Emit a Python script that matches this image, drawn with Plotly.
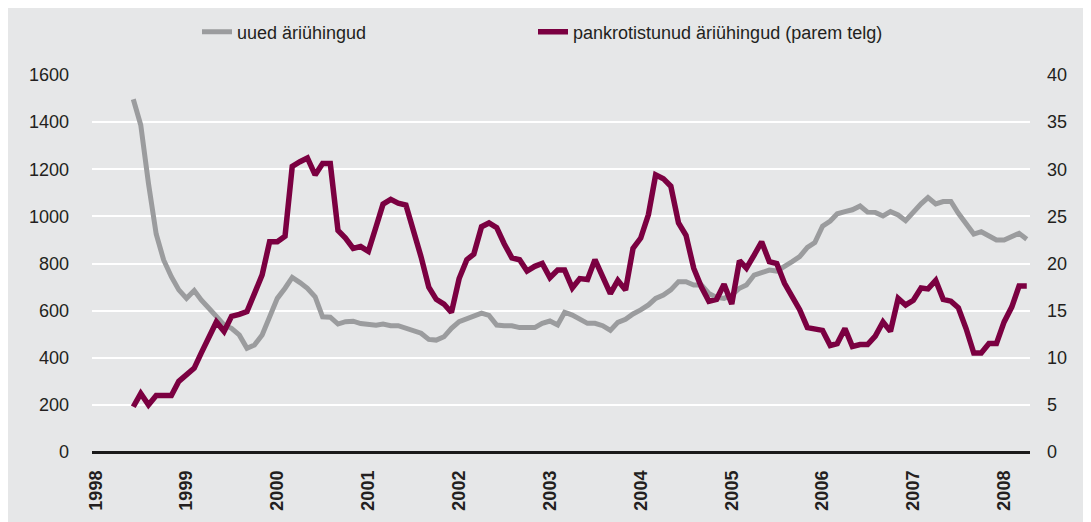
import plotly.graph_objects as go
import pandas as pd

# Monthly data, June 1998 - April 2008
start_month = "1998-06-01"
n_months = 119

uued = [1497, 1388, 1140, 925, 815, 744, 688, 652, 685, 645,
        610, 574, 539, 525, 497, 440, 454, 497, 567, 652,
        695, 741, 719, 695, 659, 574, 572, 543, 553, 555,
        545, 543, 538, 543, 536, 536, 524, 511, 504, 478,
        475, 489, 525, 553, 566, 581, 589, 580, 539, 536,
        536, 528, 528, 528, 546, 556, 539, 593, 581, 564,
        546, 546, 536, 516, 550, 563, 586, 603, 624, 652,
        666, 688, 723, 723, 709, 709, 673, 656, 652, 666,
        695, 709, 751, 761, 772, 768, 786, 808, 829, 868,
        889, 958, 980, 1011, 1020, 1028, 1044, 1018, 1017, 1002,
        1020, 1006, 982, 1020, 1053, 1080, 1053, 1063, 1063, 1013,
        968, 925, 935, 917, 900, 900, 917, 928, 903]

pankrot = [4.8, 6.2, 5.0, 6.0, 6.0, 6.0, 7.5, 8.2, 8.9, 10.5,
           12.1, 13.8, 12.8, 14.4, 14.6, 14.9, 16.8, 18.8, 22.3, 22.3,
           22.9, 30.3, 30.8, 31.2, 29.4, 30.6, 30.6, 23.5, 22.7, 21.6,
           21.8, 21.3, 23.9, 26.3, 26.8, 26.4, 26.2, 23.6, 20.7, 17.5,
           16.2, 15.7, 14.8, 18.4, 20.4, 21.0, 23.9, 24.3, 23.8, 22.1,
           20.6, 20.4, 19.2, 19.7, 20.0, 18.5, 19.3, 19.3, 17.4, 18.4,
           18.3, 20.4, 18.5, 16.8, 18.2, 17.2, 21.6, 22.7, 25.2, 29.4,
           29.0, 28.2, 24.3, 23.0, 19.5, 17.5, 16.0, 16.2, 17.8, 15.7,
           20.3, 19.5, 20.9, 22.3, 20.2, 20.0, 17.9, 16.5, 15.1, 13.2,
           13.0, 12.9, 11.3, 11.5, 13.1, 11.2, 11.4, 11.4, 12.3, 13.8,
           12.8, 16.3, 15.6, 16.1, 17.4, 17.3, 18.2, 16.2, 16.0, 15.3,
           13.1, 10.5, 10.5, 11.5, 11.5, 13.8, 15.4, 17.6, 17.6]

years = list(range(1998, 2009))
year_labels = [str(y) for y in years]
left_ticks = list(range(0, 1601, 200))
right_ticks = list(range(0, 41, 5))

name_uued = "uued äriühingud"
name_pankrot = "pankrotistunud äriühingud (parem telg)"

dates = pd.date_range(start_month, periods=n_months, freq="MS")

GRAY = "#9b9c9e"
WINE = "#7b0041"
BG = "#e6e7e8"
FONT = "Liberation Sans, Arial, Helvetica, sans-serif"

fig = go.Figure()
fig.add_trace(go.Scatter(x=dates, y=uued, name=name_uued, mode="lines",
                         line=dict(color=GRAY, width=5), yaxis="y",
                         legendwidth=291))
fig.add_trace(go.Scatter(x=dates, y=pankrot, name=name_pankrot, mode="lines",
                         line=dict(color=WINE, width=5.5), yaxis="y2"))

# plot area in figure pixels (page body adds an 8 px offset)
L, R, T, B = 84, 69, 67, 78
W, H = 1091, 522
pw, ph = W - L - R, H - T - B

def px_x(px):
    return (px - L) / pw

def px_y(py):
    return (H - B - py) / ph

fig.update_layout(
    width=W, height=H, autosize=False,
    margin=dict(l=L, r=R, t=T, b=B, pad=0, autoexpand=False),
    paper_bgcolor=BG,
    plot_bgcolor=BG,
    font=dict(family=FONT, size=18, color="#231f20"),
    showlegend=True,
    legend=dict(orientation="h", x=px_x(189), xanchor="left",
                y=px_y(24), yanchor="middle",
                bgcolor="rgba(0,0,0,0)",
                font=dict(family=FONT, size=18, color="#231f20"),
                itemwidth=30),
    xaxis=dict(type="date",
               range=["1997-12-17", "2008-04-14"],
               tickvals=[f"{y}-01-01" for y in years],
               ticktext=year_labels,
               tickangle=-90, automargin=False,
               tickfont=dict(family=FONT, size=18, color="#231f20", weight="bold"),
               showgrid=False, zeroline=False, showline=False,
               ticks="", ticklabelstandoff=14),
    yaxis=dict(range=[0, 1600], tickvals=left_ticks, automargin=False,
               showgrid=True, gridcolor="white", gridwidth=2,
               zeroline=True, zerolinecolor="#1a1a1a", zerolinewidth=2.5,
               showline=False, ticks="", ticklabelstandoff=22,
               tickfont=dict(family=FONT, size=18, color="#231f20")),
    yaxis2=dict(range=[0, 40], tickvals=right_ticks, overlaying="y", side="right",
                automargin=False,
                showgrid=False, zeroline=False, showline=False, ticks="",
                ticklabelstandoff=16,
                tickfont=dict(family=FONT, size=18, color="#231f20")),
)

fig.write_html("out.html")
